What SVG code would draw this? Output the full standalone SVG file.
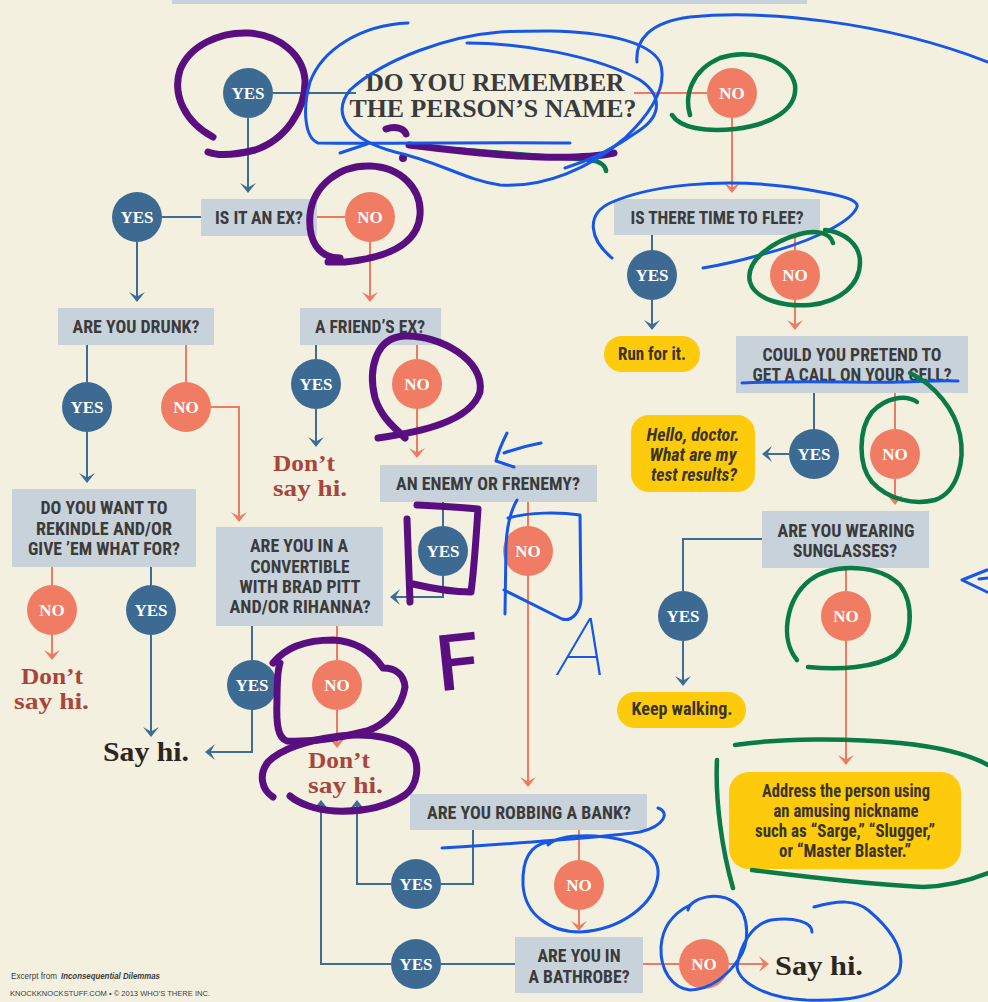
<svg xmlns="http://www.w3.org/2000/svg" width="988" height="1002" viewBox="0 0 988 1002">
<defs>
<marker id="ab" viewBox="-16 -10 18 20" refX="-5" refY="0" markerWidth="18" markerHeight="20" markerUnits="userSpaceOnUse" orient="auto"><path d="M0,0 L-10,-8 L-5.5,0 L-10,8 Z" fill="#3D6C95"/></marker>
<marker id="ao" viewBox="-16 -10 18 20" refX="-5" refY="0" markerWidth="18" markerHeight="20" markerUnits="userSpaceOnUse" orient="auto"><path d="M0,0 L-10,-8 L-5.5,0 L-10,8 Z" fill="#EE7A61"/></marker>
<style>
.box{fill:#C7D2DA}
.pill{fill:#FDCB0B}
.yes{fill:#3C6A93}
.no{fill:#F07C63}
.lb{fill:none;stroke:#3D6C95;stroke-width:2;marker-end:url(#ab)}
.lo{fill:none;stroke:#EE7A61;stroke-width:2;marker-end:url(#ao)}
.ln{marker-end:none}
.t{font-family:'Roboto Condensed','Liberation Sans Narrow',Roboto,'Liberation Sans',sans-serif;font-weight:bold;font-size:17.5px;fill:#3B3B3B;text-anchor:middle}
.tp{font-family:'Roboto Condensed','Liberation Sans Narrow',Roboto,'Liberation Sans',sans-serif;font-weight:bold;font-size:17.5px;fill:#3A3422;text-anchor:middle}
.ti{font-style:italic}
.c{font-family:'Liberation Serif',serif;font-weight:bold;font-size:17px;fill:#FFFFFF;text-anchor:middle}
.ttl{font-family:'Liberation Serif',serif;font-weight:bold;font-size:25px;fill:#3B3B3B;text-anchor:middle}
.dsh{font-family:'Liberation Serif',serif;font-weight:bold;font-size:24px;fill:#A7463B}
.sh{font-family:'Liberation Serif',serif;font-weight:bold;font-size:27px;fill:#2D2522}
.ft{font-family:'Liberation Sans',Arial,sans-serif;fill:#3B3B3B}
.pu{fill:none;stroke:#5A0F80;stroke-width:7;stroke-linecap:round;stroke-linejoin:round}
.bl{fill:none;stroke:#1657E6;stroke-width:3;stroke-linecap:round;stroke-linejoin:round}
.gr{fill:none;stroke:#0A7A46;stroke-width:4.5;stroke-linecap:round;stroke-linejoin:round}
</style>
</defs>
<rect x="0" y="0" width="988" height="1002" fill="#F3F0E0"/>
<rect x="172" y="0" width="635" height="4" class="box"/>

<g id="connectors">
<path class="lb ln" d="M273,93 H356"/>
<path class="lo ln" d="M634,93 H707"/>
<path class="lb" d="M248,118 V188"/>
<path class="lb ln" d="M162,217 H201"/>
<path class="lo ln" d="M317,217 H345"/>
<path class="lb" d="M137,242 V297"/>
<path class="lo" d="M370,242 V297"/>
<path class="lo" d="M732,118 V188"/>
<path class="lb" d="M652,235 V250 M652,300 V325"/>
<path class="lo" d="M795,235 V250 M795,300 V325"/>
<path class="lb" d="M814,393 V429 M789,454 H767"/>
<path class="lo" d="M895,393 V429 M895,479 V500"/>
<path class="lb" d="M762,539 H683 V591 M683,641 V681"/>
<path class="lo" d="M846,568 V591 M846,641 V760"/>
<path class="lb" d="M87,345 V382 M87,432 V478"/>
<path class="lo" d="M186,345 V382 M211,407 H239 V517"/>
<path class="lo" d="M52,567 V585 M52,635 V655"/>
<path class="lb" d="M151,567 V585 M151,635 V732"/>
<path class="lb" d="M316,345 V359 M316,409 V442"/>
<path class="lo" d="M417,345 V359 M417,409 V453"/>
<path class="lb" d="M443,502 V526 M443,576 V597 H395"/>
<path class="lo" d="M528,502 V526 M528,576 V782"/>
<path class="lb" d="M252,626 V660 M252,710 V752 H210"/>
<path class="lo" d="M337,626 V660 M337,710 V743"/>
<path class="lb" d="M473,830 V884 H441 M391,884 H357 V805"/>
<path class="lo" d="M579,830 V860 M579,910 V926"/>
<path class="lb" d="M515,964 H441 M391,964 H321 V805"/>
<path class="lo" d="M643,964 H679 M729,964 H764"/>
</g>

<g id="title">
<text class="ttl"><tspan x="495" y="91" textLength="259" lengthAdjust="spacingAndGlyphs">DO YOU REMEMBER</tspan><tspan x="493" y="117" textLength="287" lengthAdjust="spacingAndGlyphs">THE PERSON’S NAME?</tspan></text>
</g>

<g id="yes-name"><circle class="yes" cx="248" cy="93" r="25"/><text class="c" x="248" y="99">YES</text></g>
<g id="no-name"><circle class="no" cx="732" cy="93" r="25"/><text class="c" x="732" y="99">NO</text></g>

<g id="is-it-an-ex"><rect class="box" x="201" y="199" width="116" height="37"/><text class="t" x="259" y="224" textLength="88" lengthAdjust="spacingAndGlyphs">IS IT AN EX?</text></g>
<g id="yes-ex"><circle class="yes" cx="137" cy="217" r="25"/><text class="c" x="137" y="223">YES</text></g>
<g id="no-ex"><circle class="no" cx="370" cy="217" r="25"/><text class="c" x="370" y="223">NO</text></g>

<g id="time-to-flee"><rect class="box" x="614" y="199" width="206" height="36"/><text class="t" x="717" y="224" textLength="173" lengthAdjust="spacingAndGlyphs">IS THERE TIME TO FLEE?</text></g>
<g id="yes-flee"><circle class="yes" cx="652" cy="275" r="25"/><text class="c" x="652" y="281">YES</text></g>
<g id="no-flee"><circle class="no" cx="795" cy="275" r="25"/><text class="c" x="795" y="281">NO</text></g>

<g id="run-for-it"><rect class="pill" x="604" y="336" width="96" height="36" rx="18"/><text class="tp" x="652" y="360" textLength="68" lengthAdjust="spacingAndGlyphs">Run for it.</text></g>

<g id="pretend-call"><rect class="box" x="736" y="336" width="232" height="57"/>
<text class="t" x="852" y="361" textLength="179" lengthAdjust="spacingAndGlyphs">COULD YOU PRETEND TO</text>
<text class="t" x="852" y="381" textLength="199" lengthAdjust="spacingAndGlyphs">GET A CALL ON YOUR CELL?</text></g>
<g id="yes-call"><circle class="yes" cx="814" cy="454" r="25"/><text class="c" x="814" y="460">YES</text></g>
<g id="no-call"><circle class="no" cx="895" cy="454" r="25"/><text class="c" x="895" y="460">NO</text></g>

<g id="hello-doctor"><rect class="pill" x="631" y="415" width="124" height="77" rx="18"/>
<text class="tp ti" x="693" y="441" textLength="93" lengthAdjust="spacingAndGlyphs">Hello, doctor.</text>
<text class="tp ti" x="693" y="461" textLength="87" lengthAdjust="spacingAndGlyphs">What are my</text>
<text class="tp ti" x="694" y="481" textLength="86" lengthAdjust="spacingAndGlyphs">test results?</text></g>

<g id="sunglasses"><rect class="box" x="762" y="511" width="167" height="57"/>
<text class="t" x="846" y="537" textLength="137" lengthAdjust="spacingAndGlyphs">ARE YOU WEARING</text>
<text class="t" x="845" y="557" textLength="104" lengthAdjust="spacingAndGlyphs">SUNGLASSES?</text></g>
<g id="yes-sun"><circle class="yes" cx="683" cy="616" r="25"/><text class="c" x="683" y="622">YES</text></g>
<g id="no-sun"><circle class="no" cx="846" cy="616" r="25"/><text class="c" x="846" y="622">NO</text></g>

<g id="keep-walking"><rect class="pill" x="617" y="692" width="129" height="36" rx="18"/><text class="tp" x="682" y="715" textLength="101" lengthAdjust="spacingAndGlyphs">Keep walking.</text></g>

<g id="nickname"><rect class="pill" x="729" y="772" width="232" height="97" rx="20"/>
<text class="tp" x="846" y="797" textLength="168" lengthAdjust="spacingAndGlyphs">Address the person using</text>
<text class="tp" x="846" y="817" textLength="145" lengthAdjust="spacingAndGlyphs">an amusing nickname</text>
<text class="tp" x="845" y="837" textLength="180" lengthAdjust="spacingAndGlyphs">such as “Sarge,” “Slugger,”</text>
<text class="tp" x="845" y="857" textLength="132" lengthAdjust="spacingAndGlyphs">or “Master Blaster.”</text></g>

<g id="drunk"><rect class="box" x="58" y="308" width="156" height="37"/><text class="t" x="136" y="333" textLength="127" lengthAdjust="spacingAndGlyphs">ARE YOU DRUNK?</text></g>
<g id="yes-drunk"><circle class="yes" cx="87" cy="407" r="25"/><text class="c" x="87" y="413">YES</text></g>
<g id="no-drunk"><circle class="no" cx="186" cy="407" r="25"/><text class="c" x="186" y="413">NO</text></g>

<g id="friends-ex"><rect class="box" x="300" y="308" width="141" height="37"/><text class="t" x="370" y="333" textLength="110" lengthAdjust="spacingAndGlyphs">A FRIEND’S EX?</text></g>
<g id="yes-friend"><circle class="yes" cx="316" cy="384" r="25"/><text class="c" x="316" y="390">YES</text></g>
<g id="no-friend"><circle class="no" cx="417" cy="384" r="25"/><text class="c" x="417" y="390">NO</text></g>
<g id="dont-friend"><text class="dsh"><tspan x="273" y="471" textLength="62" lengthAdjust="spacingAndGlyphs">Don’t</tspan><tspan x="273" y="496" textLength="74" lengthAdjust="spacingAndGlyphs">say hi.</tspan></text></g>

<g id="rekindle"><rect class="box" x="12" y="489" width="184" height="78"/>
<text class="t" x="104" y="514" textLength="127" lengthAdjust="spacingAndGlyphs">DO YOU WANT TO</text>
<text class="t" x="104" y="535" textLength="136" lengthAdjust="spacingAndGlyphs">REKINDLE AND/OR</text>
<text class="t" x="104" y="555" textLength="152" lengthAdjust="spacingAndGlyphs">GIVE ’EM WHAT FOR?</text></g>
<g id="no-rekindle"><circle class="no" cx="52" cy="610" r="25"/><text class="c" x="52" y="616">NO</text></g>
<g id="yes-rekindle"><circle class="yes" cx="151" cy="610" r="25"/><text class="c" x="151" y="616">YES</text></g>
<g id="dont-rekindle"><text class="dsh"><tspan x="21" y="684" textLength="62" lengthAdjust="spacingAndGlyphs">Don’t</tspan><tspan x="14" y="709" textLength="75" lengthAdjust="spacingAndGlyphs">say hi.</tspan></text></g>
<g id="say-hi-left"><text class="sh" x="103" y="761" textLength="86" lengthAdjust="spacingAndGlyphs">Say hi.</text></g>

<g id="enemy"><rect class="box" x="380" y="465" width="217" height="37"/><text class="t" x="488" y="490" textLength="184" lengthAdjust="spacingAndGlyphs">AN ENEMY OR FRENEMY?</text></g>
<g id="yes-enemy"><circle class="yes" cx="443" cy="551" r="25"/><text class="c" x="443" y="557">YES</text></g>
<g id="no-enemy"><circle class="no" cx="528" cy="551" r="25"/><text class="c" x="528" y="557">NO</text></g>

<g id="convertible"><rect class="box" x="216" y="527" width="167" height="99"/>
<text class="t" x="299" y="552" textLength="98" lengthAdjust="spacingAndGlyphs">ARE YOU IN A</text>
<text class="t" x="300" y="573" textLength="99" lengthAdjust="spacingAndGlyphs">CONVERTIBLE</text>
<text class="t" x="300" y="593" textLength="121" lengthAdjust="spacingAndGlyphs">WITH BRAD PITT</text>
<text class="t" x="300" y="613" textLength="141" lengthAdjust="spacingAndGlyphs">AND/OR RIHANNA?</text></g>
<g id="yes-conv"><circle class="yes" cx="252" cy="685" r="25"/><text class="c" x="252" y="691">YES</text></g>
<g id="no-conv"><circle class="no" cx="337" cy="685" r="25"/><text class="c" x="337" y="691">NO</text></g>
<g id="dont-conv"><text class="dsh"><tspan x="308" y="768" textLength="62" lengthAdjust="spacingAndGlyphs">Don’t</tspan><tspan x="308" y="793" textLength="75" lengthAdjust="spacingAndGlyphs">say hi.</tspan></text></g>

<g id="bank"><rect class="box" x="410" y="794" width="237" height="36"/><text class="t" x="529" y="819" textLength="204" lengthAdjust="spacingAndGlyphs">ARE YOU ROBBING A BANK?</text></g>
<g id="yes-bank"><circle class="yes" cx="416" cy="884" r="25"/><text class="c" x="416" y="890">YES</text></g>
<g id="no-bank"><circle class="no" cx="579" cy="885" r="25"/><text class="c" x="579" y="891">NO</text></g>

<g id="bathrobe"><rect class="box" x="515" y="937" width="128" height="56"/>
<text class="t" x="579" y="962" textLength="83" lengthAdjust="spacingAndGlyphs">ARE YOU IN</text>
<text class="t" x="579" y="983" textLength="101" lengthAdjust="spacingAndGlyphs">A BATHROBE?</text></g>
<g id="yes-robe"><circle class="yes" cx="416" cy="964" r="25"/><text class="c" x="416" y="970">YES</text></g>
<g id="no-robe"><circle class="no" cx="704" cy="964" r="25"/><text class="c" x="704" y="970">NO</text></g>
<g id="say-hi-right"><text class="sh" x="775" y="975" textLength="88" lengthAdjust="spacingAndGlyphs">Say hi.</text></g>

<g id="footer">
<text class="ft" x="11" y="979" font-size="9" textLength="46" lengthAdjust="spacingAndGlyphs">Excerpt from</text>
<text class="ft" x="61" y="979" font-size="9" font-weight="bold" font-style="italic" textLength="99" lengthAdjust="spacingAndGlyphs">Inconsequential Dilemmas</text>
<text class="ft" x="10" y="996" font-size="8" textLength="200" lengthAdjust="spacingAndGlyphs">KNOCKKNOCKSTUFF.COM • © 2013 WHO’S THERE INC.</text>
</g>

<g id="annotations">
<path class="pu" d="M213,137 C185,122 172,95 180,70 C190,45 220,32 248,33 C280,35 303,55 305,80 C306,110 285,140 255,150 C235,155 218,156 208,152"/>
<path class="pu" d="M386,129 C395,126 404,128 406,134"/>
<path class="gr" d="M412,146 C470,150 540,156 590,160 C600,161 606,166 606,171"/>
<path class="pu" d="M409,145 C450,150 500,156 540,157 C575,158 600,156 614,153"/>
<circle cx="403" cy="158" r="4" fill="#5A0F80"/>
<path class="pu" d="M340,258 C318,258 308,240 310,215 C313,185 340,165 370,166 C400,167 422,188 420,215 C418,245 385,258 345,262 L328,262"/>
<path class="pu" d="M378,438 C420,432 470,422 480,392 C485,360 440,335 405,336 C375,337 368,370 375,398 C382,420 398,430 405,438"/>
<path class="pu" d="M407,519 C408,550 409,580 410,602 M417,505 C440,506 460,507 478,509 C476,540 474,570 471,592 C450,592 430,588 413,584"/>
<path class="pu" d="M273,663 C285,648 305,640 333,640 C355,641 372,652 383,668 C395,668 404,674 405,687 C402,708 385,725 367,731 C340,738 310,742 287,741 C278,738 276,725 277,700 C277,685 277,672 280,663"/>
<path class="pu" d="M273,797 C262,790 258,775 268,762 C282,748 310,740 340,736 C370,733 400,737 412,752 C420,765 418,785 405,795 C385,808 360,812 335,811 C315,810 298,803 290,796"/>
<text x="436" y="689" transform="rotate(-6 460 660)" font-family="Roboto,'Liberation Sans',sans-serif" font-weight="500" font-size="78" fill="#5A0F80">F</text>

<path class="bl" d="M408,23 C360,25 322,50 310,82 C302,110 305,138 318,143 C380,144 480,142 570,143"/>
<path class="bl" d="M340,153 L367,144"/>
<path class="bl" d="M500,32 C450,36 385,58 350,90 C330,115 350,140 395,152 C440,162 465,180 500,185 C545,188 590,168 625,138 C652,112 668,85 660,62 C648,40 600,32 550,31 C530,31 512,31 500,32"/>
<path class="bl" d="M467,43 C520,43 595,55 640,80 C662,95 662,115 640,130 C612,150 585,162 565,168"/>
<path class="bl" d="M637,62 C635,40 650,22 690,17 C760,10 880,20 988,62"/>
<path class="bl" d="M612,258 C590,240 585,215 610,203 C650,185 720,178 790,187 C830,193 860,198 857,207 C850,225 800,245 760,255 C735,262 715,266 703,268"/>
<path class="bl" d="M742,383 C800,380 860,383 900,382 C930,381 950,380 958,381"/>
<path class="bl" d="M507,433 C502,443 498,452 496,461 L514,467 M504,453 C518,448 530,445 541,443"/>
<path class="bl" d="M517,500 C510,512 507,525 506,545 L505,614 M508,518 C530,512 560,512 580,515 L581,600 C580,612 572,622 562,619 L504,590"/>
<text x="560" y="675" transform="skewX(-12) translate(138 0)" font-family="Roboto,'Liberation Sans',sans-serif" font-weight="100" font-size="80" fill="#1657E6">A</text>
<path class="bl" d="M987,570 L962,580 L987,592 M979,579 L988,578"/>
<path class="bl" d="M442,848 C520,843 600,838 640,832 C665,826 670,812 658,808"/>
<path class="bl" d="M548,842 C530,845 522,860 523,885 C525,915 550,932 580,932 C620,930 655,905 658,875 C660,850 630,838 595,836 C570,835 555,838 548,845"/>
<path class="bl" d="M688,910 C690,898 718,890 735,903 C750,915 750,945 738,960 C728,975 710,990 690,990 C672,988 660,970 661,947 C662,930 670,915 690,905"/>
<path class="bl" d="M812,932 C812,922 795,917 771,920 C752,924 740,945 737,967 C740,985 770,998 806,1000 C840,1001 880,1000 899,973 C905,955 898,935 868,910 C855,900 840,900 814,907"/>

<path class="gr" d="M690,115 C684,95 692,70 720,58 C750,48 790,60 795,85 C798,110 770,125 735,129 C705,132 680,128 672,115"/>
<path class="gr" d="M833,243 C830,232 815,230 800,234 C770,242 745,262 750,282 C755,300 785,307 810,305 C840,302 860,285 860,262 C860,245 845,232 825,230"/>
<path class="gr" d="M917,402 C905,394 885,398 872,412 C858,430 858,465 872,482 C888,500 915,505 935,500 C958,492 965,460 960,435 C955,410 935,385 910,373"/>
<path class="gr" d="M797,660 C780,640 785,600 810,580 C835,562 880,565 900,585 C915,605 912,640 895,655 C875,668 840,670 808,667"/>
<path class="gr" d="M735,745 C780,738 850,738 900,743 C940,747 970,755 988,765 M717,760 C715,800 722,850 733,888 M752,870 C800,876 850,883 923,887 C950,886 970,880 988,873"/>
</g>
</svg>
